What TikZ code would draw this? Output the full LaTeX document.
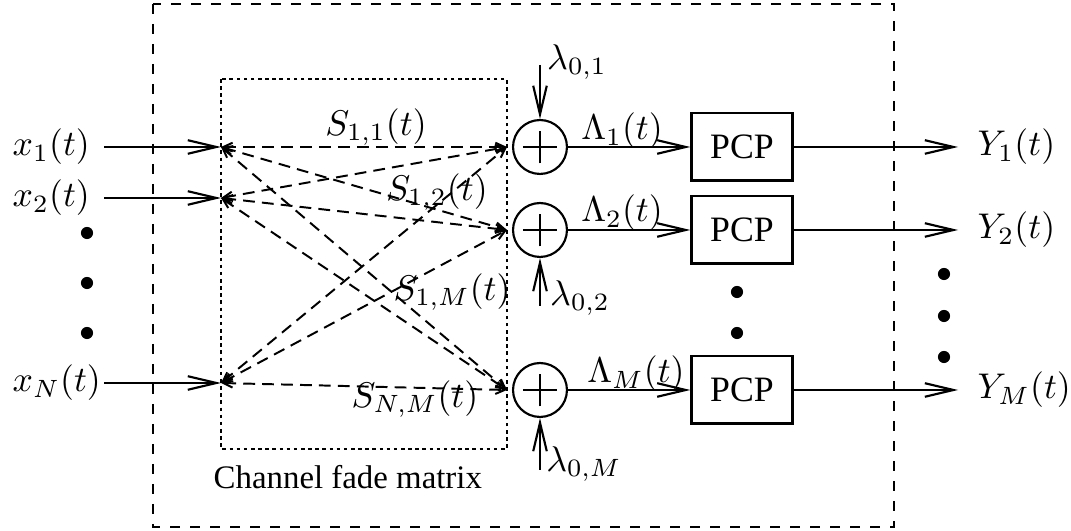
\documentclass[tikz,border=0pt]{standalone}
\usepackage{fontspec}
\setmainfont{Liberation Serif}
\usetikzlibrary{arrows.meta}

\begin{document}
\begin{tikzpicture}[x=0.28pt, y=-0.28pt,
  wire/.style={line width=0.6pt},
  sig/.style={wire, -{Straight Barb[length=8pt,width=3.8pt]}},
  fade/.style={line width=0.55pt, dash pattern=on 3.3pt off 2pt,
    {Straight Barb[length=2.6pt,width=2.4pt]}-{Straight Barb[length=2.6pt,width=2.4pt]}},
  adder/.style={circle, draw, line width=0.6pt, minimum size=15.1pt, inner sep=0pt},
  pcp/.style={draw, line width=0.6pt, minimum width=28.3pt, minimum height=18.8pt, inner sep=0pt},
  dot/.style={circle, fill, inner sep=0pt, minimum size=3.4pt},
  lbl/.style={inner sep=0pt},
  outerbox/.style={line width=0.6pt, dash pattern=on 2.8pt off 2.8pt},
  innerbox/.style={line width=0.5pt, dash pattern=on 1pt off 1pt}
]
\useasboundingbox (0,0) rectangle (1071,531);

% system boundary and channel fade matrix
\draw[outerbox] (153,4) rectangle (894,527);
\draw[innerbox] (221,79) rectangle (507,449);
\node[lbl, anchor=west, font=\fontsize{9.2}{11}\selectfont] (cfm) at (213,477) {Channel fade matrix};

% inputs
\coordinate (xin) at (104,0);
\coordinate (p1) at (221,147);
\coordinate (p2) at (221,198);
\coordinate (pN) at (221,383);
\node[lbl, anchor=west] (x1) at (12,147) {$x_1(t)$};
\node[lbl, anchor=west] (x2) at (12,198) {$x_2(t)$};
\node[lbl, anchor=west] (xN) at (12,383) {$x_N(t)$};
\draw[sig] (x1.east -| xin) -- (p1);
\draw[sig] (x2.east -| xin) -- (p2);
\draw[sig] (xN.east -| xin) -- (pN);
\node[dot] (ld1) at (87,233) {};
\node[dot] (ld2) at (87,283) {};
\node[dot] (ld3) at (87,333) {};

% adders
\node[adder] (a1) at (540,147) {};
\node[adder] (a2) at (540,230) {};
\node[adder] (aM) at (540,390) {};
\foreach \a in {a1,a2,aM} {
  \draw[wire] ([xshift=-4.8pt]\a.center) -- ([xshift=4.8pt]\a.center);
  \draw[wire] ([yshift=-4.6pt]\a.center) -- ([yshift=4.6pt]\a.center);
}
\coordinate (q1) at (507,147);
\coordinate (q2) at (507,230);
\coordinate (qM) at (507,390);

% fading paths from every input to every adder
\foreach \p in {p1,p2,pN} {
  \foreach \q in {q1,q2,qM} {
    \draw[fade] (\p) -- (\q);
  }
}
\node[lbl] (s11) at (376,127) {$S_{1,1}(t)$};
\node[lbl] (s12) at (437,192) {$S_{1,2}(t)$};
\node[lbl] (s1M) at (452,292) {$S_{1,M}(t)$};
\node[lbl] (sNM) at (415,399) {$S_{N,M}(t)$};

% background intensities
\coordinate (l1) at (540,65);
\coordinate (l2) at (540,306);
\coordinate (lM) at (540,470);
\draw[sig] (l1) -- (a1.north);
\draw[sig] (l2) -- (a2.south);
\draw[sig] (lM) -- (aM.south);
\node[lbl] (lam1) at (577,62) {$\lambda_{0,1}$};
\node[lbl] (lam2) at (580,298) {$\lambda_{0,2}$};
\node[lbl] (lamM) at (584,464) {$\lambda_{0,M}$};

% photon counting processes
\node[pcp] (P1) at (742,147) {PCP};
\node[pcp] (P2) at (742,230) {PCP};
\node[pcp] (PM) at (742,390) {PCP};
\draw[sig] (a1.east) -- (P1.west);
\draw[sig] (a2.east) -- (P2.west);
\draw[sig] (aM.east) -- (PM.west);
\node[lbl] (L1) at (622,131) {$\Lambda_1(t)$};
\node[lbl] (L2) at (622,213) {$\Lambda_2(t)$};
\node[lbl] (LM) at (636,374) {$\Lambda_M(t)$};
\node[dot] (md1) at (737,292) {};
\node[dot] (md2) at (737,333) {};

% outputs
\node[lbl, anchor=west] (Y1) at (977,147) {$Y_1(t)$};
\node[lbl, anchor=west] (Y2) at (977,230) {$Y_2(t)$};
\node[lbl, anchor=west] (YM) at (977,390) {$Y_M(t)$};
\draw[sig, shorten >=5.3pt] (P1.east) -- (Y1.west);
\draw[sig, shorten >=5.3pt] (P2.east) -- (Y2.west);
\draw[sig, shorten >=5.3pt] (PM.east) -- (YM.west);
\node[dot] (rd1) at (944,274) {};
\node[dot] (rd2) at (944,316) {};
\node[dot] (rd3) at (944,357) {};
\end{tikzpicture}
\end{document}
